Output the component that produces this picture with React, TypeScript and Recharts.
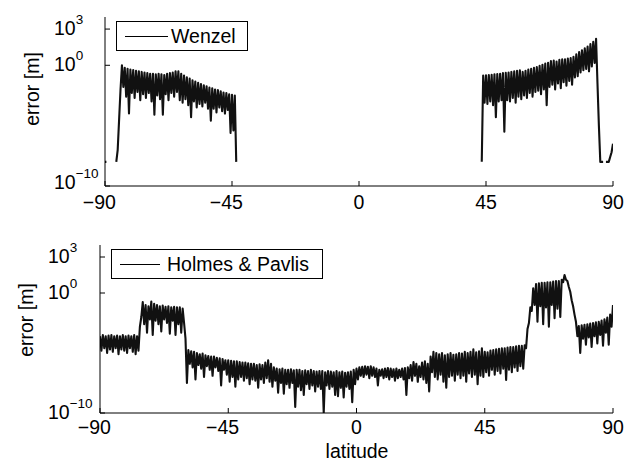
import React from 'react';
import { LineChart, Line, XAxis, YAxis } from 'recharts';

const FONT = '"Liberation Sans", Arial, Helvetica, sans-serif';

const latTicks = [-90, -45, 0, 45, 90];
const errTicks = [1e-10, 1, 1e3];

// log10(error). *Hi is at whole degrees, *Lo half a degree further on.
const wenzelSouthStart = -90;
const wenzelSouthHi = [
  -8, null, null, null, -8, -4.5, 0, -0.2, -0.3, -0.35,
  -0.4, -0.45, -0.5, -0.55, -0.6, -0.65, -0.7, -0.7, -0.75, -0.7,
  -0.75, -0.8, -0.7, -0.65, -0.6, -0.5, -0.5, -0.7, -0.85, -1.0,
  -1.1, -1.25, -1.35, -1.45, -1.55, -1.65, -1.75, -1.85, -1.9, -2.0,
  -2.05, -2.15, -2.25, -2.3, -2.4, -2.45, -2.5,
];
const wenzelSouthLo = [
  -8, null, null, null, -7, -2.0, -1.8, -2.6, -4.0, -2.3,
  -2.7, -2.2, -2.9, -2.4, -2.7, -2.3, -3.0, -4.1, -2.5, -2.8,
  -4.1, -2.4, -2.9, -2.3, -2.6, -2.2, -2.9, -3.1, -2.8, -3.3,
  -4.3, -3.0, -3.5, -3.2, -3.4, -3.1, -3.6, -4.6, -3.6, -3.9,
  -3.5, -3.8, -4.0, -3.7, -5.6, -5.4, -8,
];

const wenzelNorthStart = 43;
const wenzelNorthHi = [
  null, -0.85, -0.83, -0.8, -0.78, -0.75, -0.72, -0.7, -0.65, -0.62,
  -0.6, -0.55, -0.5, -0.45, -0.42, -0.55, -0.45, -0.35, -0.3, -0.2,
  -0.15, -0.05, 0.05, 0.15, 0.2, 0.35, 0.4, 0.3, 0.45, 0.5,
  0.5, 0.55, 0.6, 0.7, 0.9, 1.1, 1.25, 1.4, 1.55, 1.75,
  1.95, 2.2, -5, -8, null, -8, -7.6, -6.5,
];
const wenzelNorthLo = [
  -8, -3.1, -3.2, -3.0, -3.3, -4.3, -3.0, -2.9, -5.5, -2.9,
  -3.0, -2.7, -3.1, -2.6, -2.8, -2.5, -2.7, -2.3, -2.6, -2.2,
  -2.1, -2.4, -2.0, -3.3, -1.8, -1.6, -2.0, -1.5, -1.9, -1.4,
  -1.7, -1.3, -1.6, -1.0, -0.9, -0.6, -0.4, -0.3, -0.5, -0.1,
  0.2, -1.5, -8, -8, -8, -8, -7.2,
];

const holmesStart = -90;
const holmesHi = [
  -3.6, -3.5, -3.6, -3.55, -3.5, -3.6, -3.55, -3.6, -3.5, -3.6,
  -3.55, -3.6, -3.5, -3.6, -2.8, -0.75, -1.0, -1.1, -0.72, -0.9,
  -1.0, -1.1, -1.05, -1.15, -1.1, -1.2, -1.15, -1.2, -1.2, -1.3,
  -3.8, -4.75, -4.85, -4.9, -5.0, -5.1, -5.05, -5.2, -5.25, -5.3,
  -5.3, -5.4, -5.45, -5.5, -5.6, -5.6, -5.65, -5.7, -5.7, -5.75,
  -5.8, -5.8, -5.85, -5.9, -5.9, -6.0, -5.95, -6.0, -5.8, -5.6,
  -5.9, -6.2, -6.3, -6.35, -6.3, -6.4, -6.4, -6.35, -6.45, -6.4,
  -6.4, -6.5, -6.45, -6.5, -6.4, -6.5, -6.55, -6.5, -6.5, -6.6,
  -6.5, -6.55, -6.6, -6.5, -6.6, -6.55, -6.65, -6.6, -6.55, -6.4,
  -6.3, -6.2, -6.15, -6.1, -6.15, -6.1, -6.2, -6.3, -6.4, -6.35,
  -6.3, -6.25, -6.3, -6.35, -6.3, -6.4, -6.3, -6.25, -6.2, -6.0,
  -5.75, -5.9, -6.1, -5.8, -5.7, -5.9, -5.3, -4.9, -5.0, -5.1,
  -5.0, -5.2, -5.1, -5.0, -5.15, -5.1, -5.0, -5.05, -4.9, -5.0,
  -4.9, -4.7, -4.95, -4.85, -4.6, -4.9, -4.95, -4.8, -4.75, -4.7,
  -4.65, -4.6, -4.6, -4.55, -4.5, -4.5, -4.45, -4.4, -4.4, -4.35,
  -3.0, -1.2, 0.4, 0.75, 0.8, 0.85, 0.85, 0.9, 0.9, 0.95,
  1.0, 1.0, 1.1, 1.5, 1.0, 0.1, -1.1, -2.4, -2.75, -2.7,
  -2.65, -2.6, -2.55, -2.5, -2.45, -2.4, -2.3, -2.2, -2.05, -1.8,
  -1.0,
];
const holmesLo = [
  -4.8, -4.6, -5.0, -4.7, -4.9, -4.6, -5.1, -4.7, -4.8, -5.0,
  -4.6, -4.9, -5.1, -4.8, -2.0, -2.6, -3.3, -2.2, -3.5, -2.3,
  -2.6, -3.2, -2.2, -2.5, -3.4, -2.3, -3.5, -2.6, -3.3, -2.5,
  -7.5, -5.9, -6.2, -7.2, -6.0, -6.3, -7.0, -6.1, -6.4, -6.9,
  -6.2, -6.5, -7.7, -6.4, -6.8, -7.4, -7.0, -7.8, -7.2, -7.0,
  -7.3, -7.1, -7.6, -7.2, -7.3, -7.9, -7.2, -7.5, -7.1, -7.4,
  -7.8, -7.3, -8.3, -7.5, -8.4, -7.6, -7.9, -7.5, -9.5, -7.8,
  -8.1, -8.5, -7.6, -8.0, -7.7, -8.2, -7.8, -8.0, -10, -7.7,
  -8.0, -7.8, -8.5, -8.6, -7.9, -8.7, -7.8, -8.0, -9.1, -7.6,
  -7.2, -6.9, -7.0, -6.8, -7.1, -6.9, -7.0, -7.7, -6.9, -7.1,
  -7.0, -7.2, -7.0, -7.3, -7.1, -7.0, -7.2, -8.5, -7.1, -7.3,
  -6.9, -7.4, -7.0, -7.2, -7.5, -8.2, -6.6, -7.0, -7.2, -6.8,
  -7.4, -7.9, -7.0, -6.9, -7.3, -6.8, -7.1, -6.9, -7.4, -6.7,
  -7.0, -6.8, -7.6, -6.9, -7.0, -6.6, -6.9, -6.4, -6.8, -6.5,
  -6.7, -6.3, -7.25, -6.4, -6.6, -6.2, -6.5, -6.1, -6.3, -4.6,
  -2.5, -1.5, -1.0, -2.4, -1.1, -2.6, -1.2, -2.8, -1.0, -2.1,
  -1.3, -2.0, 0.9, 1.1, 0.5, -0.6, -1.8, -3.6, -5.0, -3.8,
  -4.3, -3.7, -4.5, -3.6, -4.2, -3.5, -4.4, -3.3, -4.3, -2.8,
];

type Row = { lat: number; err: number | null };

function toRows(start: number, hi: (number | null)[], lo: (number | null)[]): Row[] {
  const rows: Row[] = [];
  hi.forEach((h, i) => {
    rows.push({ lat: start + i, err: h == null ? null : Math.pow(10, h) });
    if (i < lo.length) {
      const l = lo[i];
      rows.push({ lat: start + i + 0.5, err: l == null ? null : Math.pow(10, l) });
    }
  });
  return rows;
}

const wenzelSouth = toRows(wenzelSouthStart, wenzelSouthHi, wenzelSouthLo);
const wenzelNorth = toRows(wenzelNorthStart, wenzelNorthHi, wenzelNorthLo);
const holmes = toRows(holmesStart, holmesHi, holmesLo);

const TICK_LEN = 5;
const FS = 19.5;

const LatTick = (props: any) => {
  const { x, y, payload } = props;
  const v: number = payload.value;
  const digits = String(Math.abs(v));
  const half = (digits.length * 0.556 * FS) / 2;
  return (
    <g>
      <line x1={x} x2={x} y1={y} y2={y - TICK_LEN} stroke="#000" strokeWidth={1} />
      <text x={x + half} y={y + props.dyLabel} textAnchor="end" fontSize={FS} fontFamily={FONT} fill="#000">
        {v < 0 ? '\u2212' + digits : digits}
      </text>
    </g>
  );
};

const TopTick = (props: any) => {
  const { x, y } = props;
  return <line x1={x} x2={x} y1={y} y2={y + TICK_LEN} stroke="#000" strokeWidth={1} />;
};

const ErrTick = (props: any) => {
  const { x, y, payload, labelX, lowShift } = props;
  const exp = Math.round(Math.log10(payload.value));
  const shift = exp === -10 ? lowShift : 0;
  return (
    <g>
      <line x1={x} x2={x + TICK_LEN} y1={y} y2={y} stroke="#000" strokeWidth={1} />
      <text x={labelX} y={y + 6 + shift} fontSize={FS} fontFamily={FONT} fill="#000">
        <tspan>10</tspan>
        <tspan dy={-11.5} fontSize={13.5}>{exp < 0 ? '\u2212' + Math.abs(exp) : String(exp)}</tspan>
      </text>
    </g>
  );
};

const RightTick = (props: any) => {
  const { x, y } = props;
  return <line x1={x} x2={x - TICK_LEN} y1={y} y2={y} stroke="#000" strokeWidth={1} />;
};

const YTitle = ({ bx, cy }: any) => (
  <text
    x={bx}
    y={cy}
    transform={`rotate(-90 ${bx} ${cy})`}
    textAnchor="middle"
    fontSize={FS}
    fontFamily={FONT}
    fill="#000"
  >
    error [m]
  </text>
);

const XTitle = ({ cx, by }: any) => (
  <text x={cx} y={by} textAnchor="middle" fontSize={FS} fontFamily={FONT} fill="#000">
    latitude
  </text>
);

function LegendBox({ left, top, width, lineLen, gap, label }: any) {
  return (
    <div
      style={{
        position: 'absolute',
        left,
        top,
        width,
        height: 30,
        boxSizing: 'border-box',
        border: '1.3px solid #000',
        background: '#fff',
        display: 'flex',
        alignItems: 'center',
        fontFamily: FONT,
        fontSize: FS,
        color: '#000',
      }}
    >
      <span style={{ display: 'inline-block', width: lineLen, height: 0, borderTop: '1.5px solid #000', marginLeft: 8, marginRight: gap }} />
      <span>{label}</span>
    </div>
  );
}

function Panel({ top, leftAxis, lowShift, labelX, children, xTitle }: any) {
  const H = 467;
  const W = 635;
  return (
    <LineChart
      width={W}
      height={H}
      margin={{ top: top[0], right: W - 613, left: 0, bottom: H - top[1] - 30 }}
      style={{ position: 'absolute', left: 0, top: 0 }}
    >
      <XAxis
        dataKey="lat"
        type="number"
        domain={[-90, 90]}
        ticks={latTicks}
        allowDataOverflow
        height={30}
        tickSize={0}
        tickMargin={0}
        tickLine={false}
        axisLine={{ stroke: '#000', strokeWidth: 1 }}
        tick={(p: any) => <LatTick {...p} dyLabel={top[2]} />}
        label={xTitle ? <XTitle cx={357} by={458} /> : undefined}
      />
      <XAxis
        xAxisId="top"
        dataKey="lat"
        orientation="top"
        type="number"
        domain={[-90, 90]}
        ticks={latTicks}
        allowDataOverflow
        height={0}
        tickSize={0}
        tickMargin={0}
        tickLine={false}
        axisLine={{ stroke: '#000', strokeWidth: 1 }}
        tick={(p: any) => <TopTick {...p} />}
      />
      <YAxis
        type="number"
        scale="log"
        domain={[1e-10, 1e4]}
        ticks={errTicks}
        allowDataOverflow
        width={leftAxis}
        tickSize={0}
        tickMargin={0}
        tickLine={false}
        axisLine={{ stroke: '#000', strokeWidth: 1 }}
        tick={(p: any) => <ErrTick {...p} labelX={labelX} lowShift={lowShift} />}
        label={<YTitle bx={top[3]} cy={top[4]} />}
      />
      <YAxis
        yAxisId="right"
        orientation="right"
        type="number"
        scale="log"
        domain={[1e-10, 1e4]}
        ticks={errTicks}
        allowDataOverflow
        width={0}
        tickSize={0}
        tickMargin={0}
        tickLine={false}
        axisLine={{ stroke: '#000', strokeWidth: 1 }}
        tick={(p: any) => <RightTick {...p} />}
      />
      {children}
    </LineChart>
  );
}

export default function App() {
  const lineProps = {
    dataKey: 'err',
    stroke: '#111',
    strokeWidth: 2.1,
    strokeLinejoin: 'round' as const,
    dot: false,
    activeDot: false,
    isAnimationActive: false,
    connectNulls: false,
    type: 'linear' as const,
  };
  return (
    <div style={{ position: 'absolute', left: 0, top: 0, width: 635, height: 467, background: '#fff', overflow: 'hidden' }}>
      <Panel top={[17, 186, 23, 39, 89]} leftAxis={105} labelX={54} lowShift={-3}>
        <Line {...lineProps} data={wenzelSouth} name="Wenzel" />
        <Line {...lineProps} data={wenzelNorth} name="Wenzel north" />
      </Panel>
      <Panel top={[245, 413, 21, 33, 320]} leftAxis={100} labelX={48} lowShift={0} xTitle>
        <Line {...lineProps} data={holmes} name="Holmes & Pavlis" />
      </Panel>
      <LegendBox left={116} top={21} width={132} lineLen={43} gap={3} label="Wenzel" />
      <LegendBox left={111} top={249} width={212} lineLen={40} gap={7} label="Holmes & Pavlis" />
    </div>
  );
}
